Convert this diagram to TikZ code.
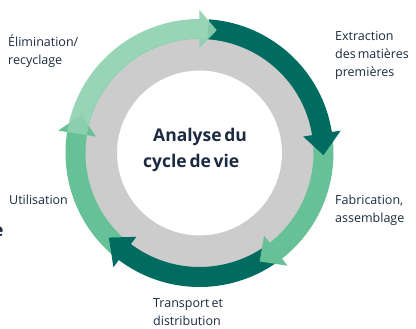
\documentclass[tikz,border=0pt]{standalone}
\usepackage{fontspec}
\setmainfont{Open Sans}[WordSpace=0.6]
\definecolor{lightgr}{HTML}{8FD1B0}
\definecolor{midgr}{HTML}{66C296}
\definecolor{darkgr}{HTML}{006B60}
\definecolor{ringgray}{HTML}{CCCCCC}
\definecolor{txt}{HTML}{1B2A3F}
\newcommand{\cycarrow}[4]{% colour, start, base, tip
  \fill[#1] (#2:134) arc[start angle=#2, end angle=#3, radius=134]
    -- (#3:143) -- (#4:124) -- (#3:105) -- (#3:114)
    arc[start angle=#3, end angle=#2, radius=114] -- cycle;}
\tikzset{
  lbl/.style={font=\fontsize{12.5}{18}\selectfont, text=txt, align=left, inner sep=0pt, anchor=base west},
  ttl/.style={font=\fontsize{17.5}{26}\selectfont\bfseries, text=txt, inner sep=0pt, anchor=base west}
}
\begin{document}
\begin{tikzpicture}[x=1pt,y=1pt]
\useasboundingbox (-199.5,-176) rectangle (216.5,153);
% gray ring
\fill[ringgray, even odd rule] (0,0) circle[radius=115] (0,0) circle[radius=82.5];
% arrows (clockwise)
\cycarrow{midgr}{232}{171}{162}
\cycarrow{darkgr}{-55}{-127}{-137}
\cycarrow{midgr}{5}{-52}{-61}
\cycarrow{darkgr}{86}{9}{-1}
\begin{scope}[opacity=0.92]
\cycarrow{lightgr}{171}{90}{82}
\end{scope}
% labels (anchored at the baseline of the last line)
\node[lbl] (elim) at (-191.5,88) {Élimination/\\recyclage};
\node[lbl] (extr) at (135.5,76) {Extraction\\des matières\\premières};
\node[lbl] (fabr) at (135.5,-70) {Fabrication,\\assemblage};
\node[lbl] (trans) at (-46.5,-173) {Transport et\\distribution};
\node[lbl] (util) at (-190.5,-52) {Utilisation};
\node[ttl] (t1) at (-46.5,11) {Analyse du};
\node[ttl] (t2) at (-56.5,-15) {cycle de vie};
\node[ttl] (stray) at (-206.5,-84) {e};
\end{tikzpicture}
\end{document}
